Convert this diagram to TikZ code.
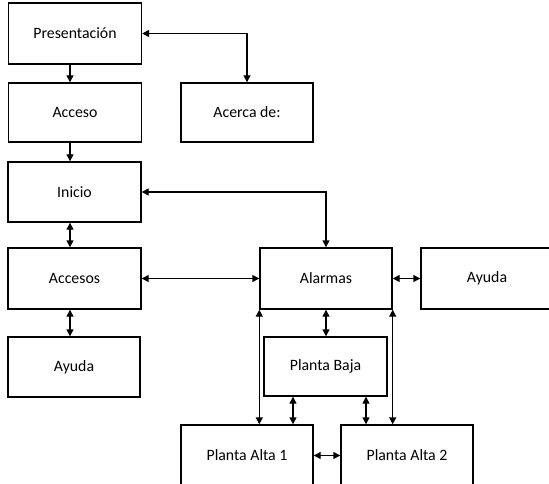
\documentclass[tikz,border=0pt]{standalone}
\usepackage{fontspec}
\setmainfont{Carlito}
\usepackage{tikz}
\usetikzlibrary{arrows.meta}

\begin{document}
\begin{tikzpicture}[x=1pt, y=-1pt,
    blk/.style={draw, line width=1.4pt, minimum width=133pt, minimum height=60pt,
        inner sep=0pt, font=\fontsize{15.8}{18}\selectfont},
    lnk/.style={line width=1.4pt, {Triangle[length=7pt,width=7pt]}-{Triangle[length=7pt,width=7pt]}},
    one/.style={line width=1.4pt, -{Triangle[length=7pt,width=7pt]}}]

    \useasboundingbox (0,0) rectangle (549,484);
    \clip (0,0) rectangle (549,484);

    \coordinate (lcol) at (70,0);

    \node[blk, minimum height=61pt] (pres) at (75,33.5) {Presentación};
    \node[blk, minimum height=59pt] (acceso) at (75,112.5) {Acceso};
    \node[blk, minimum height=59pt, minimum width=132pt] (acerca) at (247,112.5) {Acerca de:};

    \node[blk] (inicio) at (74.5,192) {Inicio};
    \node[blk, minimum height=61pt] (accesos) at (74.5,278.5) {Accesos};
    \node[blk, minimum width=132pt] (ayudaL) at (74,367) {Ayuda};

    \node[blk, minimum height=61pt, minimum width=132pt] (alarmas) at (326,278.5) {Alarmas};
    \node[blk, minimum height=61pt, minimum width=132pt] (ayudaR) at (487,278.5) {Ayuda};
    \node[blk, minimum height=59pt, minimum width=123pt] (baja) at (325.5,366.5) {Planta Baja};

    \node[blk, minimum height=61pt, minimum width=132pt] (alta1) at (247,455.5) {Planta Alta 1};
    \node[blk, minimum height=61pt, minimum width=132pt] (alta2) at (407,455.5) {Planta Alta 2};

    % left column
    \draw[one] (pres.south -| lcol) -- (acceso.north -| lcol);
    \draw[one] (acceso.south -| lcol) -- (inicio.north -| lcol);
    \draw[lnk] (inicio.south -| lcol) -- (accesos.north -| lcol);
    \draw[lnk] (accesos.south -| lcol) -- (ayudaL.north -| lcol);

    \draw[lnk] (pres.east) -| (acerca.north);
    \draw[lnk] (inicio.east) -| (alarmas.north);
    \draw[lnk] (accesos.east) -- (alarmas.west);
    \draw[lnk] (alarmas.east) -- (ayudaR.west);

    % plantas
    \draw[lnk] (alarmas.south) -- (alarmas.south |- baja.north);
    \draw[lnk] (alarmas.south west) -- (alarmas.south west |- alta1.north);
    \draw[lnk] (alarmas.south east) -- (alarmas.south east |- alta2.north);
    \draw[lnk] (baja.south -| 293,0) -- (alta1.north -| 293,0);
    \draw[lnk] (baja.south -| 366,0) -- (alta2.north -| 366,0);
    \draw[lnk] (alta1.east) -- (alta2.west);

\end{tikzpicture}
\end{document}
